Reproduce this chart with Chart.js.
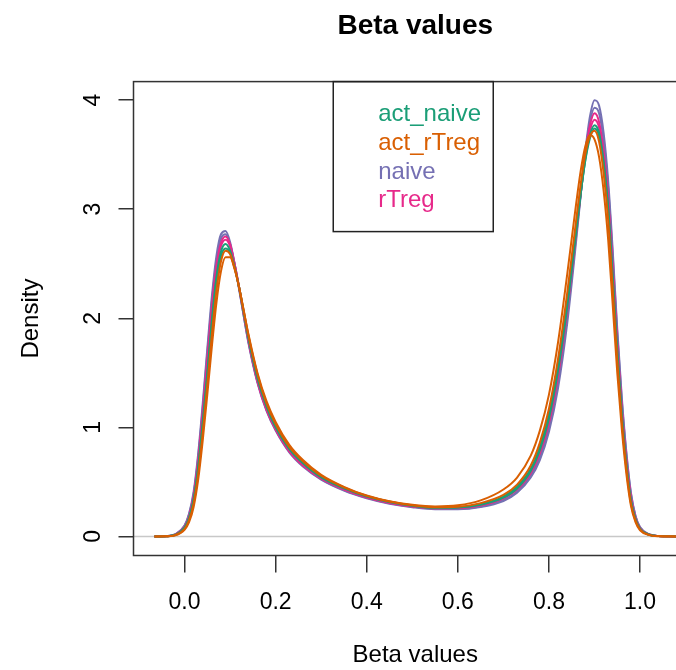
<!DOCTYPE html>
<html><head><meta charset="utf-8">
<script src="https://cdn.jsdelivr.net/npm/chart.js@4/dist/chart.umd.min.js"></script>
<style>
html,body{margin:0;padding:0;overflow:hidden;background:#fff;width:676px;height:670px;}
#wrap{position:absolute;left:0;top:0;width:720px;height:670px;}
</style></head><body>
<div id="wrap"><canvas id="c" width="720" height="670"></canvas></div>
<script>
// ---- data ----
const betaX = [-0.066, -0.04, -0.02, 0.00, 0.01, 0.02, 0.03, 0.04, 0.05, 0.06, 0.07, 0.08, 0.09, 0.10, 0.11, 0.12, 0.13, 0.14,
  0.16, 0.18, 0.20, 0.23, 0.26, 0.30, 0.35, 0.40, 0.45, 0.50, 0.55, 0.60, 0.65, 0.70, 0.73, 0.76, 0.78, 0.80, 0.82, 0.84, 0.86,
  0.87, 0.88, 0.89, 0.90, 0.91, 0.92, 0.93, 0.94, 0.95, 0.96, 0.97, 0.98, 0.99, 1.00, 1.02, 1.04, 1.079];

const actRTreg1 = [0, 0.001, 0.01, 0.06, 0.13, 0.27, 0.52, 0.88, 1.30, 1.74, 2.14, 2.43, 2.56, 2.56, 2.45, 2.28, 2.07, 1.86,
  1.50, 1.24, 1.05, 0.84, 0.70, 0.565, 0.455, 0.375, 0.322, 0.29, 0.275, 0.285, 0.33, 0.43, 0.54, 0.74, 0.97, 1.30, 1.78, 2.40, 3.06,
  3.36, 3.58, 3.68, 3.64, 3.48, 3.17, 2.72, 2.12, 1.50, 0.98, 0.57, 0.28, 0.13, 0.055, 0.012, 0.002, 0];
const actRTreg2 = [0, 0.002, 0.012, 0.068, 0.15, 0.30, 0.57, 0.95, 1.39, 1.85, 2.25, 2.52, 2.62, 2.59, 2.46, 2.28, 2.07, 1.85,
  1.49, 1.22, 1.03, 0.82, 0.69, 0.556, 0.45, 0.372, 0.32, 0.286, 0.268, 0.272, 0.305, 0.38, 0.475, 0.65, 0.86, 1.17, 1.63, 2.23, 2.91,
  3.24, 3.51, 3.67, 3.72, 3.62, 3.33, 2.90, 2.27, 1.61, 1.05, 0.62, 0.30, 0.145, 0.062, 0.014, 0.003, 0];
const actNaive1 = [0, 0.002, 0.015, 0.08, 0.17, 0.34, 0.64, 1.05, 1.50, 1.98, 2.38, 2.61, 2.68, 2.62, 2.47, 2.28, 2.05, 1.82,
  1.45, 1.19, 1.00, 0.80, 0.67, 0.54, 0.44, 0.365, 0.315, 0.28, 0.262, 0.265, 0.29, 0.355, 0.44, 0.60, 0.79, 1.08, 1.52, 2.10, 2.80,
  3.15, 3.46, 3.68, 3.77, 3.70, 3.44, 3.02, 2.38, 1.70, 1.12, 0.66, 0.33, 0.16, 0.07, 0.015, 0.003, 0];
const actNaive2 = [0, 0.002, 0.014, 0.077, 0.165, 0.33, 0.62, 1.02, 1.47, 1.94, 2.34, 2.57, 2.64, 2.60, 2.46, 2.28, 2.06, 1.84,
  1.47, 1.21, 1.02, 0.81, 0.68, 0.55, 0.445, 0.37, 0.318, 0.283, 0.265, 0.268, 0.295, 0.365, 0.455, 0.62, 0.82, 1.12, 1.57, 2.15, 2.83,
  3.16, 3.45, 3.65, 3.74, 3.67, 3.41, 2.99, 2.36, 1.68, 1.10, 0.65, 0.32, 0.155, 0.068, 0.015, 0.003, 0];
const rTreg1 = [0, 0.002, 0.017, 0.088, 0.185, 0.37, 0.70, 1.14, 1.62, 2.10, 2.48, 2.69, 2.75, 2.68, 2.50, 2.28, 2.04, 1.80,
  1.42, 1.16, 0.98, 0.78, 0.65, 0.53, 0.43, 0.356, 0.306, 0.274, 0.258, 0.26, 0.284, 0.35, 0.43, 0.58, 0.76, 1.04, 1.47, 2.07, 2.80,
  3.17, 3.52, 3.77, 3.88, 3.80, 3.53, 3.10, 2.47, 1.77, 1.17, 0.70, 0.36, 0.17, 0.075, 0.017, 0.003, 0];
const rTreg2 = [0, 0.002, 0.016, 0.085, 0.18, 0.36, 0.68, 1.11, 1.59, 2.07, 2.45, 2.66, 2.72, 2.66, 2.49, 2.28, 2.04, 1.81,
  1.43, 1.17, 0.99, 0.79, 0.66, 0.535, 0.435, 0.36, 0.31, 0.277, 0.26, 0.262, 0.287, 0.355, 0.44, 0.59, 0.78, 1.06, 1.50, 2.09, 2.80,
  3.15, 3.48, 3.72, 3.82, 3.75, 3.49, 3.06, 2.43, 1.74, 1.15, 0.69, 0.35, 0.165, 0.072, 0.016, 0.003, 0];
const naive1 = [0, 0.003, 0.02, 0.10, 0.21, 0.41, 0.76, 1.22, 1.72, 2.20, 2.57, 2.77, 2.80, 2.70, 2.50, 2.27, 2.02, 1.78,
  1.41, 1.15, 0.97, 0.77, 0.64, 0.52, 0.42, 0.35, 0.30, 0.268, 0.25, 0.25, 0.27, 0.325, 0.40, 0.54, 0.70, 0.96, 1.36, 1.95, 2.72,
  3.14, 3.54, 3.85, 4.00, 3.95, 3.70, 3.26, 2.62, 1.90, 1.27, 0.77, 0.40, 0.19, 0.085, 0.02, 0.004, 0];
const naive2 = [0, 0.003, 0.019, 0.095, 0.20, 0.39, 0.73, 1.18, 1.68, 2.15, 2.52, 2.73, 2.77, 2.68, 2.49, 2.26, 2.02, 1.79,
  1.42, 1.16, 0.98, 0.78, 0.65, 0.525, 0.425, 0.355, 0.305, 0.272, 0.255, 0.255, 0.275, 0.335, 0.41, 0.56, 0.73, 1.00, 1.42, 2.02, 2.76,
  3.15, 3.52, 3.80, 3.93, 3.88, 3.63, 3.20, 2.57, 1.86, 1.24, 0.75, 0.39, 0.185, 0.08, 0.018, 0.004, 0];

const groups = ['act_naive', 'act_rTreg', 'naive', 'rTreg'];
const groupColors = ['#1B9E77', '#D95F02', '#7570B3', '#E7298A'];
const xTicks = [0, 0.2, 0.4, 0.6, 0.8, 1.0];
const yTicks = [0, 1, 2, 3, 4];

// drawing order: first dataset is drawn on top
const series = [
  {name: 'act_rTreg', g: 1, v: actRTreg1},
  {name: 'act_rTreg', g: 1, v: actRTreg2},
  {name: 'act_naive', g: 0, v: actNaive1},
  {name: 'act_naive', g: 0, v: actNaive2},
  {name: 'rTreg', g: 3, v: rTreg1},
  {name: 'rTreg', g: 3, v: rTreg2},
  {name: 'naive', g: 2, v: naive1},
  {name: 'naive', g: 2, v: naive2}
];

const FONT = "'Liberation Sans', Arial, Helvetica, sans-serif";

const rPlot = {
  id: 'rPlot',
  beforeDatasetsDraw(chart) {
    const {ctx, chartArea: a, scales: {y}} = chart;
    const y0 = y.getPixelForValue(0);
    ctx.save();
    ctx.strokeStyle = '#C8C8C8';
    ctx.lineWidth = 1.5;
    ctx.beginPath(); ctx.moveTo(a.left, y0); ctx.lineTo(a.right, y0); ctx.stroke();
    ctx.restore();
  },
  afterDraw(chart) {
    const {ctx, chartArea: a} = chart;
    ctx.save();
    ctx.strokeStyle = '#333';
    ctx.lineWidth = 1.5;
    ctx.strokeRect(a.left, a.top, a.right - a.left, a.bottom - a.top);
    // legend box (R legend at "top")
    const cx = (a.left + a.right) / 2 - 2;
    const w = 160, h = 150;
    const lx = cx - w / 2, ly = a.top;
    ctx.strokeStyle = '#222';
    ctx.strokeRect(lx, ly, w, h);
    ctx.font = '24px ' + FONT;
    ctx.textBaseline = 'middle';
    ctx.textAlign = 'left';
    groups.forEach((g, i) => {
      ctx.fillStyle = groupColors[i];
      ctx.fillText(g, lx + 45, ly + 33 + i * 28.7);
    });
    ctx.restore();
  }
};

new Chart(document.getElementById('c'), {
  type: 'line',
  data: {
    datasets: series.map(s => ({
      label: s.name,
      data: betaX.map((x, i) => ({x: x, y: s.v[i]})),
      borderColor: groupColors[s.g],
      borderWidth: 2,
      pointRadius: 0,
      fill: false,
      cubicInterpolationMode: 'monotone'
    }))
  },
  options: {
    responsive: false,
    animation: false,
    devicePixelRatio: 1,
    layout: {padding: {left: 0, right: 23, top: 0, bottom: 0}},
    plugins: {
      legend: {display: false},
      tooltip: {enabled: false},
      title: {
        display: true, text: 'Beta values', color: '#000', fullSize: false,
        font: {family: FONT, size: 28, weight: 'bold'},
        padding: {top: 9, bottom: 39}
      }
    },
    scales: {
      x: {
        type: 'linear', min: -0.112, max: 1.125,
        afterBuildTicks: s => { s.ticks = xTicks.map(v => ({value: v})); },
        afterFit: s => { s.height = 114.5; },
        ticks: {color: '#000', font: {family: FONT, size: 23}, padding: 16, maxRotation: 0,
          callback: v => Number(v).toFixed(1)},
        grid: {drawOnChartArea: false, drawTicks: true, tickLength: 17, color: '#333', lineWidth: 1.5},
        border: {display: false},
        title: {display: true, text: 'Beta values', color: '#000', font: {family: FONT, size: 24}, padding: {top: 0, bottom: 0}}
      },
      y: {
        type: 'linear', min: -0.175, max: 4.17,
        afterBuildTicks: s => { s.ticks = yTicks.map(v => ({value: v})); },
        afterFit: s => { s.width = 133.5; },
        ticks: {color: '#000', font: {family: FONT, size: 23}, padding: 18, minRotation: 90, maxRotation: 90,
          crossAlign: 'center', callback: v => String(v)},
        grid: {drawOnChartArea: false, drawTicks: true, tickLength: 15, color: '#333', lineWidth: 1.5},
        border: {display: false},
        title: {display: true, text: 'Density', color: '#000', font: {family: FONT, size: 24}, padding: {top: 17, bottom: 0}}
      }
    }
  },
  plugins: [rPlot]
});
</script>
</body></html>
